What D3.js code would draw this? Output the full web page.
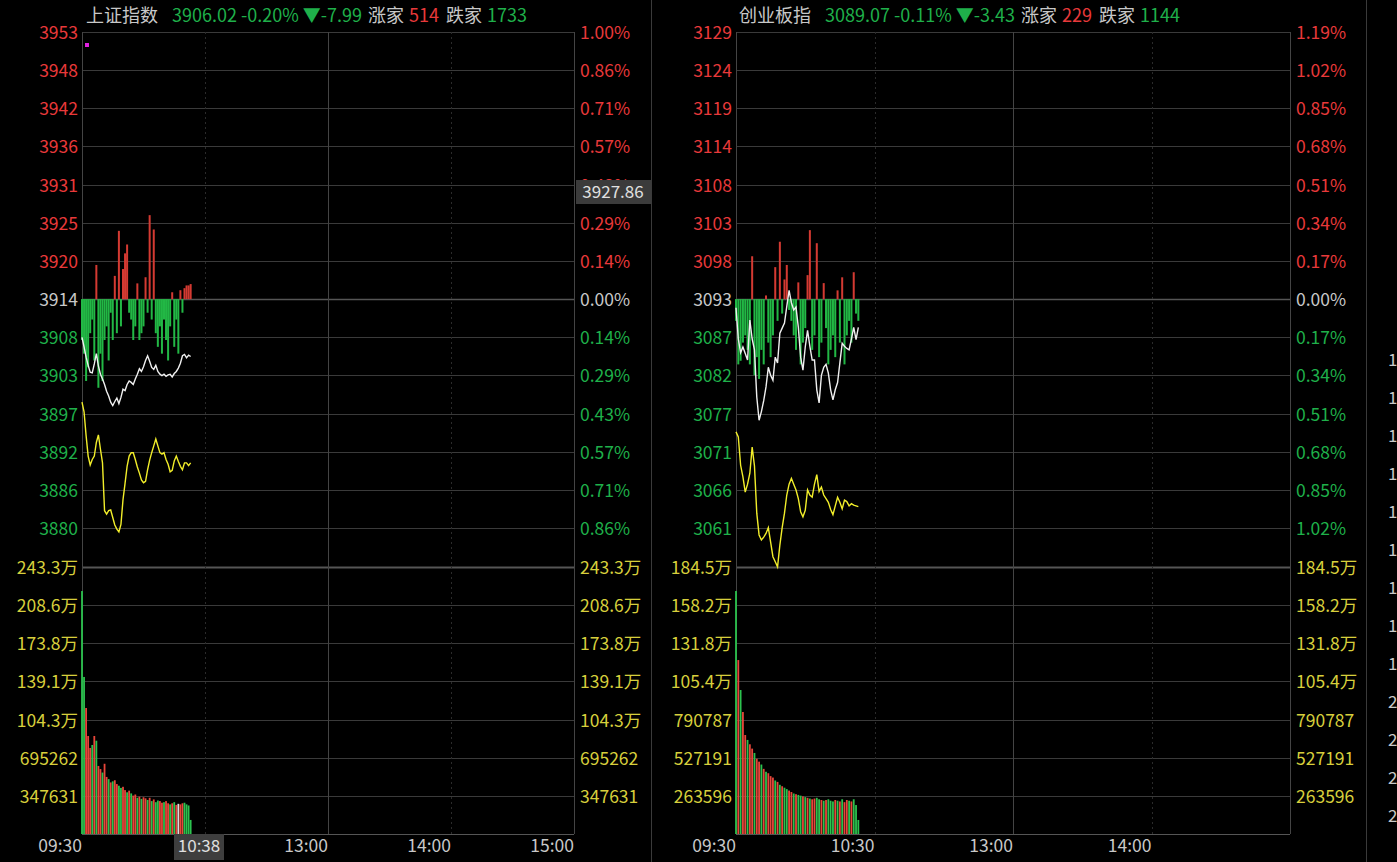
<!DOCTYPE html>
<html><head><meta charset="utf-8">
<script src="https://cdn.jsdelivr.net/npm/d3@7/dist/d3.min.js"></script>
<style>body{margin:0;background:#000;overflow:hidden}svg{display:block}text{font-family:"Noto Sans CJK SC","Noto Sans",sans-serif}</style>
</head><body><svg id="c" width="1397" height="862"></svg>
<script>
// ---------- data ----------
const timeLabels = ["09:30","10:30","13:00","14:00","15:00"];
const timeMinutes = [0,60,120,180,240];

const shName = "上证指数", shBase = 3914.01, shStepPct = 1/7;
const shPriceLabels = ["3953","3948","3942","3936","3931","3925","3920","3914","3908","3903","3897","3892","3886","3880"];
const shPctLabels = ["1.00%","0.86%","0.71%","0.57%","0.43%","0.29%","0.14%","0.00%","0.14%","0.29%","0.43%","0.57%","0.71%","0.86%"];
const shVolLabels = ["243.3万","208.6万","173.8万","139.1万","104.3万","695262","347631"];
const shVolMax = 2433000;
const shWhite = [3908.4,3907.0,3905.5,3904.3,3903.3,3903.2,3904.5,3906.0,3904.2,3903.0,3902.3,3901.5,3900.5,3899.8,3898.9,3898.4,3899.0,3899.5,3898.7,3899.6,3900.8,3900.6,3901.5,3902.0,3901.8,3901.5,3902.3,3903.0,3903.8,3903.4,3904.1,3905.0,3905.7,3904.9,3904.0,3903.7,3904.3,3903.4,3903.0,3902.8,3903.0,3902.7,3902.9,3903.0,3902.6,3903.1,3903.4,3903.9,3904.6,3905.7,3905.9,3905.4,3905.8,3905.6];
const shYellow = [3898.9,3897.5,3894,3891,3889.7,3890.5,3891,3893,3894.1,3892,3890,3883,3882.5,3883,3883.1,3882,3880.9,3880.3,3879.9,3881,3884.6,3887,3889.5,3891,3891.5,3891.5,3890.5,3889.4,3888.5,3887.5,3887.1,3887.3,3889,3890.4,3891.5,3892.5,3893.5,3892.5,3891.5,3891.3,3891.5,3890.5,3889.8,3888.7,3888.9,3890.3,3891,3890.2,3889.5,3889,3890,3890,3889.6,3890];
const shBreadth = [-6,-8,-12,-10,-5,-3,-9,5,-13,-8,-12,-6,-4,-9,-2,-6,3.4,-5,10,-4,4.4,6.7,8,-2,-3,-6,-4,2.3,-6,-5,-4,3.2,-2,12.3,-3,10.2,-5,-7,-4,-8,-3,-6,-9,-4,1,-7,-3,-8,1.3,-2,1.6,2,2,2.2];
const shVolume = [2214000,1431000,1148000,893000,784000,811000,893000,850000,620000,592000,560000,640000,520000,500000,470000,480000,490000,455000,440000,420000,430000,400000,380000,395000,370000,350000,360000,330000,340000,320000,335000,325000,310000,330000,300000,315000,290000,305000,300000,285000,290000,300000,280000,270000,280000,290000,265000,275000,270000,280000,285000,270000,260000,128000];
const shVolUp = "ggrrrgrgrrgrrgrgrrggrrgrgrrgrgrrgrgrggrrgrrgrgrwrrgg";

const cyName = "创业板指", cyBase = 3092.5, cyStepPct = 0.17;
const cyPriceLabels = ["3129","3124","3119","3114","3108","3103","3098","3093","3087","3082","3077","3071","3066","3061"];
const cyPctLabels = ["1.19%","1.02%","0.85%","0.68%","0.51%","0.34%","0.17%","0.00%","0.17%","0.34%","0.51%","0.68%","0.85%","1.02%"];
const cyVolLabels = ["184.5万","158.2万","131.8万","105.4万","790787","527191","263596"];
const cyVolMax = 1845000;
const cyWhite = [3091.3,3087,3085.1,3085.9,3085,3084.1,3089.6,3087,3085.5,3079,3075.8,3077,3078.5,3080.4,3083.1,3082,3081.3,3084.5,3083.7,3087.8,3088.5,3089.2,3091.5,3093.7,3092,3091,3091.4,3088.6,3084.5,3082.7,3085.9,3088.2,3086,3084.1,3084.1,3080,3078.2,3082,3083.1,3083.5,3082.3,3080,3078.6,3080,3081,3083.7,3086.4,3086,3085.7,3085.5,3087,3088.6,3086.9,3088.6];
const cyYellow = [3074.2,3073.5,3069.6,3068,3065.9,3067,3068.5,3072.1,3069.5,3063,3060,3059.3,3059.7,3060.2,3061,3059,3057,3056.3,3055.6,3058.6,3061,3063,3065.5,3067,3067.8,3067,3066.2,3065,3063.2,3062.5,3063.4,3066.2,3065.5,3065.2,3067,3068.3,3066,3066.6,3065.5,3065,3064.5,3063.5,3062.8,3064,3065.2,3064.5,3063.6,3064.8,3064.6,3064,3064.3,3064.1,3064,3063.9];
const cyBreadth = [-3,-9,-8.5,-6,-5,-7,-9,5.9,-10.5,-8,-11,-7,-9,0.5,-6,-8,-5,4.4,-3,7.9,-2,2.7,4.7,-1.5,-3,-5,-7,2.3,-9,-6,-4,3.3,9.5,-7,-5,7.7,-8,-6,2.2,-4,-9,-7,-5,-8,1.2,-6,3,-9,-5,-3,-6,3.7,-2,-3];
const cyVolume = [1679000,1202000,995000,843000,684000,650000,620000,590000,560000,520000,500000,480000,450000,430000,420000,400000,390000,370000,360000,340000,330000,320000,310000,300000,290000,280000,275000,270000,265000,260000,255000,250000,245000,240000,245000,250000,240000,235000,230000,235000,240000,230000,225000,235000,230000,225000,240000,220000,235000,230000,225000,240000,200000,97000];
const cyVolUp = "grgrrgrrgrrgrgrrrgrgrggrrgrggrgrgrrggrgrgggrgrgrrgrg";

const RED = "#e8393a", GREEN = "#1fb04a", YEL = "#d7cf3c", GRID = "#3a3a3a";
const svg = d3.select("#c");
svg.append("rect").attr("width",1397).attr("height",862).attr("fill","#000");

function panel(o){
  const g = svg.append("g");
  const x = d3.scaleLinear().domain([0,240]).range([o.x0,o.x1]);
  const pct = d3.scaleLinear().domain([-6*o.step,7*o.step]).range([528,32]);
  const y = d3.scaleLinear().domain([o.base*(1-6*o.step/100), o.base*(1+7*o.step/100)]).range([528,32]);
  const yv = d3.scaleLinear().domain([0,o.volMax]).range([834,567]);
  o.priceLabels.forEach((t,i)=>{
    const k = 7-i, yy = Math.round(pct(k*o.step))+0.5;
    g.append("line").attr("x1",o.x0).attr("x2",o.x1).attr("y1",yy).attr("y2",yy)
      .attr("stroke",k===0?"#555":GRID).attr("stroke-width",k===0?1.5:1);
    const col = k>0?RED:(k<0?GREEN:"#c8c8c8");
    g.append("text").attr("x",o.x0-4).attr("y",yy+6).attr("text-anchor","end").attr("fill",col).attr("font-size",17.5).text(t);
    g.append("text").attr("x",o.x1+6).attr("y",yy+6).attr("fill",col).attr("font-size",17.5).text(o.pctLabels[i]);
  });
  const vt = d3.range(7).map(i=>o.volMax*(7-i)/7);
  vt.forEach((v,i)=>{
    const yy = Math.round(yv(v))+0.5;
    g.append("line").attr("x1",o.x0).attr("x2",o.x1).attr("y1",yy).attr("y2",yy)
      .attr("stroke",i===0?"#555":GRID).attr("stroke-width",i===0?2:1);
    g.append("text").attr("x",o.x0-4).attr("y",yy+6).attr("text-anchor","end").attr("fill",YEL).attr("font-size",17.5).text(o.volLabels[i]);
    g.append("text").attr("x",o.x1+6).attr("y",yy+6).attr("fill",YEL).attr("font-size",17.5).text(o.volLabels[i]);
  });
  g.append("line").attr("x1",o.x0).attr("x2",o.x1).attr("y1",834.5).attr("y2",834.5).attr("stroke","#555");
  [60,180].forEach(m=>g.append("line").attr("x1",Math.round(x(m))+.5).attr("x2",Math.round(x(m))+.5).attr("y1",32).attr("y2",834)
    .attr("stroke","#2a2a2a").attr("stroke-dasharray","2,3"));
  g.append("line").attr("x1",Math.round(x(120))+.5).attr("x2",Math.round(x(120))+.5).attr("y1",32).attr("y2",834).attr("stroke","#444");
  [o.x0,o.x1].forEach(xx=>g.append("line").attr("x1",xx+.5).attr("x2",xx+.5).attr("y1",32).attr("y2",834).attr("stroke","#444"));
  timeLabels.forEach((t,i)=>{ if(o.hideTime&&o.hideTime.includes(i))return;
    g.append("text").attr("x",x(timeMinutes[i])).attr("y",852).attr("text-anchor","end").attr("fill","#c8c8c8").attr("font-size",17.5).text(t);});
  o.breadth.forEach((v,i)=>{
    const y0=y(o.base), y1=y(o.base+v);
    g.append("rect").attr("x",x(i)-1).attr("width",2).attr("y",Math.min(y0,y1)).attr("height",Math.abs(y1-y0))
      .attr("fill",v>0?"#d43a32":"#22b845");
  });
  const ln = d3.line().x((d,i)=>x(i)).y(d=>y(d));
  g.append("path").datum(o.white).attr("d",ln).attr("fill","none").attr("stroke","#f0f0f0").attr("stroke-width",1.4);
  g.append("path").datum(o.yellow).attr("d",ln).attr("fill","none").attr("stroke","#f2ee2a").attr("stroke-width",1.4);
  o.volume.forEach((v,i)=>{
    const c=o.volUp[i];
    g.append("rect").attr("x",x(i)-0.9).attr("width",1.8).attr("y",yv(v)).attr("height",834-yv(v))
      .attr("fill",c==="r"?"#e8463a":(c==="w"?"#dddddd":"#2cc24e"));
  });
  const h = g.append("text").attr("x",o.hx).attr("y",22).attr("font-size",18);
  h.append("tspan").attr("fill","#c8c8c8").text(o.name);
  h.append("tspan").attr("fill",GREEN).attr("dx",14).text(o.head1);
  h.append("tspan").attr("fill","#c8c8c8").attr("dx",6).text("涨家");
  h.append("tspan").attr("fill",RED).attr("dx",5).text(o.up);
  h.append("tspan").attr("fill","#c8c8c8").attr("dx",7).text("跌家");
  h.append("tspan").attr("fill",GREEN).attr("dx",5).text(o.down);
  return {g,x,y};
}
panel({x0:82,x1:574,base:shBase,step:shStepPct,priceLabels:shPriceLabels,pctLabels:shPctLabels,volLabels:shVolLabels,volMax:shVolMax,
  white:shWhite,yellow:shYellow,breadth:shBreadth,volume:shVolume,volUp:shVolUp,name:shName,head1:"3906.02 -0.20% ▼-7.99",up:"514",down:"1733",hx:86,hideTime:[1]});
panel({x0:736,x1:1290,base:cyBase,step:cyStepPct,priceLabels:cyPriceLabels,pctLabels:cyPctLabels,volLabels:cyVolLabels,volMax:cyVolMax,
  white:cyWhite,yellow:cyYellow,breadth:cyBreadth,volume:cyVolume,volUp:cyVolUp,name:cyName,head1:"3089.07 -0.11% ▼-3.43",up:"229",down:"1144",hx:739,hideTime:[4]});
[651.5,1366.5].forEach(xx=>svg.append("line").attr("x1",xx).attr("x2",xx).attr("y1",0).attr("y2",862).attr("stroke","#3a3a3a"));
svg.append("rect").attr("x",85).attr("y",43).attr("width",4).attr("height",4).attr("fill","#e020e0");
svg.append("rect").attr("x",576).attr("y",180).attr("width",75).attr("height",24).attr("fill","#3b3b3b");
svg.append("text").attr("x",613).attr("y",198).attr("text-anchor","middle").attr("fill","#e0e0e0").attr("font-size",17).text("3927.86");
svg.append("rect").attr("x",174).attr("y",834).attr("width",50).attr("height",26).attr("fill","#3e3e3e");
svg.append("text").attr("x",199).attr("y",852).attr("text-anchor","middle").attr("fill","#e0e0e0").attr("font-size",17).text("10:38");
["1","1","1","1","1","1","1","1","1","2","2","2","2"].forEach((t,i)=>svg.append("text").attr("x",1388).attr("y",366+i*38).attr("fill","#c8c8c8").attr("font-size",17).text(t));
</script></body></html>
